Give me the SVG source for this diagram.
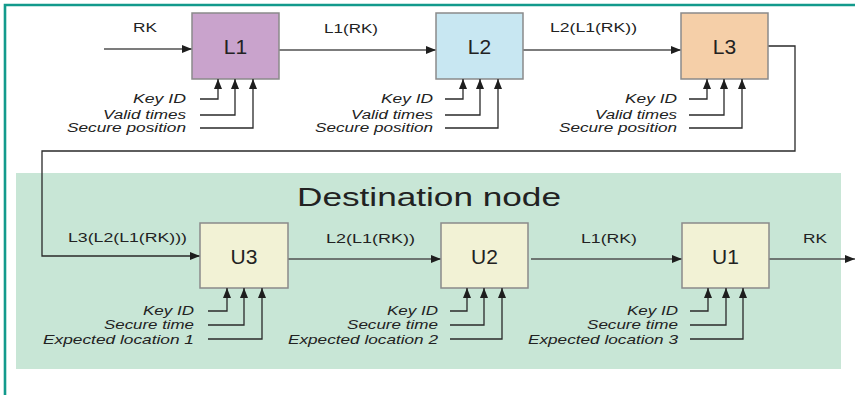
<svg xmlns="http://www.w3.org/2000/svg" width="855" height="395" viewBox="0 0 855 395">
<defs>
<marker id="ah" viewBox="0 0 10 8" refX="10" refY="4" markerWidth="10" markerHeight="8" markerUnits="userSpaceOnUse" orient="auto">
<path d="M0,0 L10,4 L0,8 z" fill="#1e1e1e"/>
</marker>
<style>
.box{stroke:#8a8a8a;stroke-width:1.5}
.nl{font-family:"Liberation Sans",Arial,sans-serif;font-size:21px;fill:#222;text-anchor:middle}
.lab{font-family:"Liberation Sans",Arial,sans-serif;font-size:12.5px;fill:#222}
.in{font-family:"Liberation Sans",Arial,sans-serif;font-size:12.5px;font-style:italic;fill:#222;text-anchor:end}
.inb{font-family:"Liberation Sans",Arial,sans-serif;font-size:13.5px;font-style:italic;fill:#222;text-anchor:end}
.c{fill:none;stroke:#505050;stroke-width:1.4}
.ci{fill:none;stroke:#2a2a2a;stroke-width:1.3}
</style>
</defs>
<rect x="0" y="0" width="855" height="395" fill="#ffffff"/>
<path d="M5,395 V5 H855" fill="none" stroke="#129a8c" stroke-width="2.6"/>
<g id="destination">
<rect x="16" y="173" width="825" height="196" fill="#c8e6d6"/>
<text x="297" y="206" font-family="'Liberation Sans',Arial,sans-serif" font-size="26" fill="#222" textLength="264" lengthAdjust="spacingAndGlyphs">Destination node</text>
</g>
<g id="connectors">
<path class="c" d="M104,49 H192" marker-end="url(#ah)"/>
<path class="c" d="M279,50 H436" marker-end="url(#ah)"/>
<path class="c" d="M523,50 H681" marker-end="url(#ah)"/>
<path class="ci" d="M768,46 H795 V151 H42 V256 H200" marker-end="url(#ah)"/>
<path class="c" d="M288,259 H441" marker-end="url(#ah)"/>
<path class="c" d="M531,259 H682" marker-end="url(#ah)"/>
<path class="c" d="M769,259 H855" marker-end="url(#ah)"/>
<text class="lab" x="133" y="32" textLength="24" lengthAdjust="spacingAndGlyphs">RK</text>
<text class="lab" x="324" y="33" textLength="54" lengthAdjust="spacingAndGlyphs">L1(RK)</text>
<text class="lab" x="550" y="32" textLength="87" lengthAdjust="spacingAndGlyphs">L2(L1(RK))</text>
<text class="lab" x="68" y="242" textLength="119" lengthAdjust="spacingAndGlyphs">L3(L2(L1(RK)))</text>
<text class="lab" x="326" y="243" textLength="89" lengthAdjust="spacingAndGlyphs">L2(L1(RK))</text>
<text class="lab" x="581" y="243" textLength="56" lengthAdjust="spacingAndGlyphs">L1(RK)</text>
<text class="lab" x="803" y="243" textLength="24" lengthAdjust="spacingAndGlyphs">RK</text>
</g>
<g id="L1">
<rect class="box" x="192" y="13" width="87" height="66" fill="#c9a3cc"/>
<text class="nl" x="235.5" y="54">L1</text>
<path class="ci" d="M200,99 H218 V79" marker-end="url(#ah)"/>
<path class="ci" d="M200,115 H235 V79" marker-end="url(#ah)"/>
<path class="ci" d="M200,128 H253 V79" marker-end="url(#ah)"/>
<text class="in" x="186" y="102.5" textLength="53" lengthAdjust="spacingAndGlyphs">Key ID</text>
<text class="in" x="186" y="118.5" textLength="83" lengthAdjust="spacingAndGlyphs">Valid times</text>
<text class="in" x="186" y="132" textLength="119" lengthAdjust="spacingAndGlyphs">Secure position</text>
</g>
<g id="L2">
<rect class="box" x="436" y="13" width="87" height="66" fill="#c8e7f2"/>
<text class="nl" x="479.5" y="54">L2</text>
<path class="ci" d="M445,99 H463 V79" marker-end="url(#ah)"/>
<path class="ci" d="M445,115 H480 V79" marker-end="url(#ah)"/>
<path class="ci" d="M445,128 H498 V79" marker-end="url(#ah)"/>
<text class="in" x="433" y="102.5" textLength="52" lengthAdjust="spacingAndGlyphs">Key ID</text>
<text class="in" x="433" y="118.5" textLength="82" lengthAdjust="spacingAndGlyphs">Valid times</text>
<text class="in" x="433" y="132" textLength="118" lengthAdjust="spacingAndGlyphs">Secure position</text>
</g>
<g id="L3">
<rect class="box" x="681" y="13" width="87" height="66" fill="#f5cfa8"/>
<text class="nl" x="724.5" y="54">L3</text>
<path class="ci" d="M689,99 H707 V79" marker-end="url(#ah)"/>
<path class="ci" d="M689,115 H724 V79" marker-end="url(#ah)"/>
<path class="ci" d="M689,128 H742 V79" marker-end="url(#ah)"/>
<text class="in" x="677" y="102.5" textLength="52" lengthAdjust="spacingAndGlyphs">Key ID</text>
<text class="in" x="677" y="118.5" textLength="82" lengthAdjust="spacingAndGlyphs">Valid times</text>
<text class="in" x="677" y="132" textLength="118" lengthAdjust="spacingAndGlyphs">Secure position</text>
</g>
<g id="U3">
<rect class="box" x="200" y="223" width="88" height="65" fill="#f2f2d5"/>
<text class="nl" x="244" y="264">U3</text>
<path class="ci" d="M208,311 H227 V288" marker-end="url(#ah)"/>
<path class="ci" d="M208,325 H244 V288" marker-end="url(#ah)"/>
<path class="ci" d="M208,339 H262 V288" marker-end="url(#ah)"/>
<text class="inb" x="194" y="314.5" textLength="51" lengthAdjust="spacingAndGlyphs">Key ID</text>
<text class="inb" x="194" y="329" textLength="90" lengthAdjust="spacingAndGlyphs">Secure time</text>
<text class="inb" x="194" y="344" textLength="151" lengthAdjust="spacingAndGlyphs">Expected location 1</text>
</g>
<g id="U2">
<rect class="box" x="441" y="223" width="87" height="65" fill="#f2f2d5"/>
<text class="nl" x="484.5" y="264">U2</text>
<path class="ci" d="M450,311 H467 V288" marker-end="url(#ah)"/>
<path class="ci" d="M450,325 H484 V288" marker-end="url(#ah)"/>
<path class="ci" d="M450,339 H502 V288" marker-end="url(#ah)"/>
<text class="inb" x="438" y="314.5" textLength="51" lengthAdjust="spacingAndGlyphs">Key ID</text>
<text class="inb" x="438" y="329" textLength="91" lengthAdjust="spacingAndGlyphs">Secure time</text>
<text class="inb" x="438" y="344" textLength="150" lengthAdjust="spacingAndGlyphs">Expected location 2</text>
</g>
<g id="U1">
<rect class="box" x="682" y="223" width="87" height="65" fill="#f2f2d5"/>
<text class="nl" x="725.5" y="264">U1</text>
<path class="ci" d="M690,311 H708 V288" marker-end="url(#ah)"/>
<path class="ci" d="M690,325 H726 V288" marker-end="url(#ah)"/>
<path class="ci" d="M690,339 H743 V288" marker-end="url(#ah)"/>
<text class="inb" x="678" y="314.5" textLength="51" lengthAdjust="spacingAndGlyphs">Key ID</text>
<text class="inb" x="678" y="329" textLength="91" lengthAdjust="spacingAndGlyphs">Secure time</text>
<text class="inb" x="678" y="344" textLength="150" lengthAdjust="spacingAndGlyphs">Expected location 3</text>
</g>
</svg>
